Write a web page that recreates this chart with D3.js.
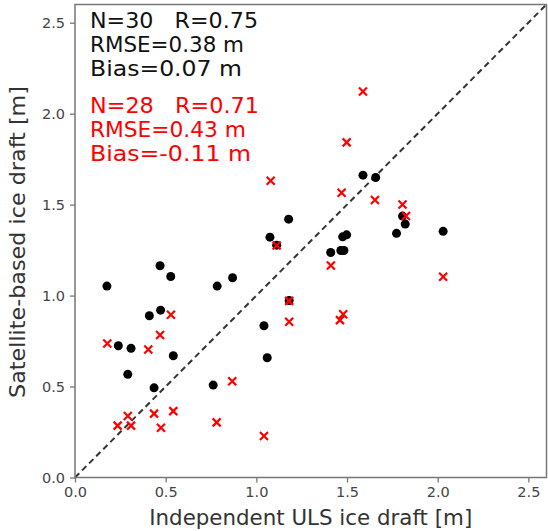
<!DOCTYPE html>
<html>
<head>
<meta charset="utf-8">
<script src="https://cdn.jsdelivr.net/npm/d3@7"></script>
<style>
  body { margin: 0; background: #fff; }
  svg { display: block; }
  text { font-family: "DejaVu Sans", sans-serif; }
</style>
</head>
<body>
<svg id="chart" width="548" height="531"></svg>
<script>
// black dots: first retrieval (N=30)
var blackX = [0.176, 0.239, 0.309, 0.291, 0.410, 0.472, 0.436, 0.469, 0.528, 0.542,
              0.784, 0.869, 0.762, 1.042, 1.060, 1.075, 1.112, 1.178, 1.181, 1.410,
              1.466, 1.483, 1.476, 1.498, 1.588, 1.658, 1.773, 1.806, 1.821, 2.030];
var blackY = [1.052, 0.724, 0.710, 0.567, 0.889, 0.920, 0.493, 1.164, 1.105, 0.669,
              1.052, 1.098, 0.508, 0.834, 0.658, 1.321, 1.277, 1.420, 0.973, 1.237,
              1.248, 1.248, 1.323, 1.334, 1.662, 1.649, 1.342, 1.437, 1.393, 1.353];

// red crosses: second retrieval (N=28)
var redX = [0.178, 0.235, 0.291, 0.309, 0.404, 0.436, 0.469, 0.474, 0.529, 0.542,
            0.781, 0.867, 1.042, 1.079, 1.112, 1.181, 1.181, 1.411, 1.461, 1.479,
            1.470, 1.498, 1.588, 1.654, 1.806, 1.825, 2.030];
var redY = [0.737, 0.285, 0.338, 0.285, 0.704, 0.351, 0.783, 0.274, 0.895, 0.365,
            0.303, 0.529, 0.228, 1.631, 1.275, 0.856, 0.971, 1.165, 0.865, 0.897,
            1.565, 1.842, 2.122, 1.525, 1.501, 1.437, 1.103];

var ticks = [0.0, 0.5, 1.0, 1.5, 2.0, 2.5];
var blackStats = ['N=30   R=0.75', 'RMSE=0.38 m', 'Bias=0.07 m'];
var redStats = ['N=28   R=0.71', 'RMSE=0.43 m', 'Bias=-0.11 m'];
// text widths seen in the picture
var blackLen = [168, 154, 152];
var redLen = [169, 156, 161];

var svg = d3.select('#chart');
var plotL = 75, plotR = 546.5, plotT = 4.5, plotB = 477.5;

var x = d3.scaleLinear().domain([0, 2.6]).range([plotL, plotR]);
var y = d3.scaleLinear().domain([0, 2.6]).range([plotB, plotT]);

// 1:1 line
svg.append('line')
  .attr('x1', x(0)).attr('y1', y(0))
  .attr('x2', x(2.6)).attr('y2', y(2.6))
  .attr('stroke', '#333')
  .attr('stroke-width', 2)
  .attr('stroke-dasharray', '6,4');

// black dots
svg.selectAll('circle.blk')
  .data(d3.range(blackX.length))
  .enter().append('circle')
  .attr('class', 'blk')
  .attr('cx', function(i) { return x(blackX[i]); })
  .attr('cy', function(i) { return y(blackY[i]); })
  .attr('r', 4.5)
  .attr('fill', '#000');

// red crosses
var s = 4;
var cross = svg.selectAll('g.red')
  .data(d3.range(redX.length))
  .enter().append('g')
  .attr('class', 'red')
  .attr('transform', function(i) { return 'translate(' + x(redX[i]) + ',' + y(redY[i]) + ')'; });
cross.append('path')
  .attr('d', 'M' + (-s) + ',' + (-s) + 'L' + s + ',' + s + 'M' + (-s) + ',' + s + 'L' + s + ',' + (-s))
  .attr('stroke', '#ff0000')
  .attr('stroke-width', 2.2)
  .attr('fill', 'none');

// axes
var xAxis = svg.append('g')
  .attr('transform', 'translate(0,' + plotB + ')')
  .call(d3.axisBottom(x).tickValues(ticks).tickFormat(d3.format('.1f')).tickSizeInner(5).tickSizeOuter(0).tickPadding(4));
var yAxis = svg.append('g')
  .attr('transform', 'translate(' + plotL + ',0)')
  .call(d3.axisLeft(y).tickValues(ticks).tickFormat(d3.format('.1f')).tickSizeInner(5).tickSizeOuter(0).tickPadding(5));
[xAxis, yAxis].forEach(function(a) {
  a.select('.domain').remove();
  a.selectAll('line').attr('stroke', '#777').attr('stroke-width', 1.3);
  a.selectAll('text').attr('fill', '#444').style('font-size', '14.5px')
    .style('font-family', '"DejaVu Sans", sans-serif');
});

// frame
svg.append('rect')
  .attr('x', plotL).attr('y', plotT)
  .attr('width', plotR - plotL).attr('height', plotB - plotT)
  .attr('fill', 'none')
  .attr('stroke', '#777')
  .attr('stroke-width', 1.5);

// labels
svg.append('text')
  .attr('x', (plotL + plotR) / 2).attr('y', 525)
  .attr('text-anchor', 'middle')
  .attr('fill', '#333')
  .attr('textLength', 323)
  .attr('lengthAdjust', 'spacingAndGlyphs')
  .style('font-size', '20.5px')
  .text('Independent ULS ice draft [m]');
svg.append('text')
  .attr('transform', 'translate(25,' + 242 + ') rotate(-90)')
  .attr('text-anchor', 'middle')
  .attr('fill', '#333')
  .attr('textLength', 312)
  .attr('lengthAdjust', 'spacingAndGlyphs')
  .style('font-size', '20.5px')
  .text('Satellite-based ice draft [m]');

// stats text
svg.selectAll('text.bstat')
  .data(blackStats).enter().append('text')
  .attr('class', 'bstat')
  .attr('x', 90).attr('y', function(d, i) { return 27.5 + i * 24; })
  .attr('fill', '#111')
  .attr('textLength', function(d, i) { return blackLen[i]; })
  .attr('lengthAdjust', 'spacingAndGlyphs')
  .style('white-space', 'pre')
  .style('font-size', '20.5px')
  .text(function(d) { return d; });
svg.selectAll('text.rstat')
  .data(redStats).enter().append('text')
  .attr('class', 'rstat')
  .attr('x', 90).attr('y', function(d, i) { return 112.5 + i * 24; })
  .attr('fill', '#ff0000')
  .attr('textLength', function(d, i) { return redLen[i]; })
  .attr('lengthAdjust', 'spacingAndGlyphs')
  .style('white-space', 'pre')
  .style('font-size', '20.5px')
  .text(function(d) { return d; });
</script>
</body>
</html>
